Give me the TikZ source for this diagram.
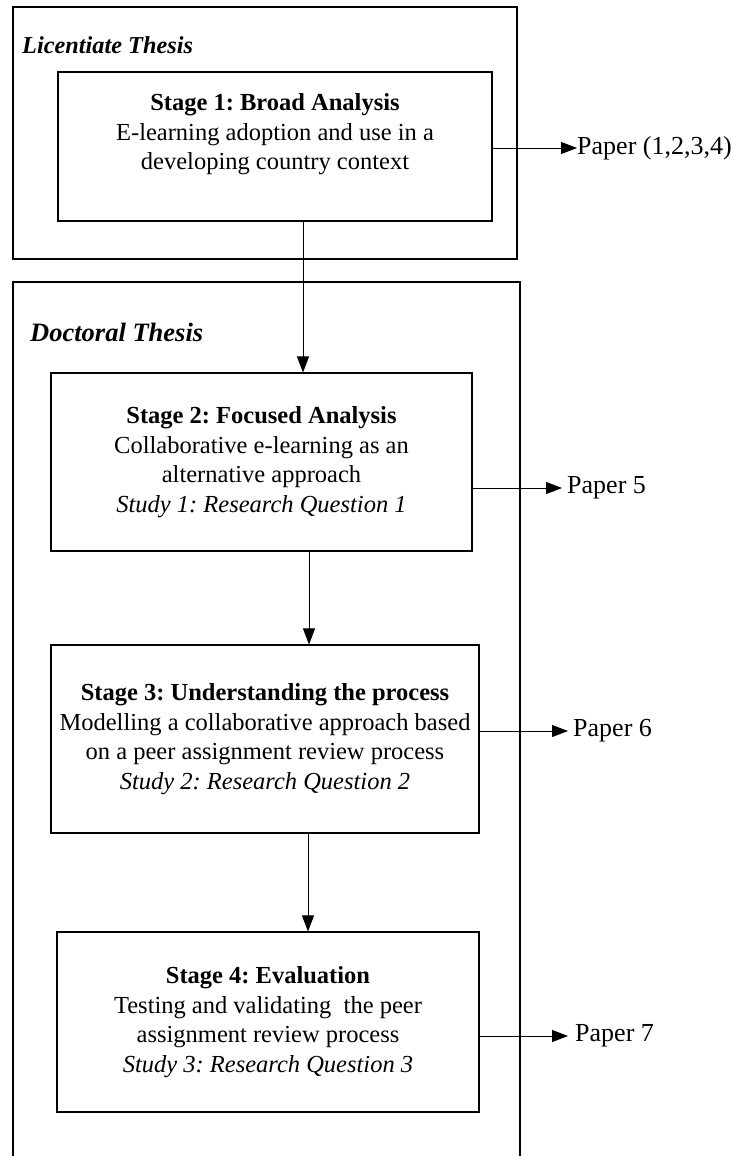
\documentclass[tikz,border=0pt]{standalone}
\usepackage{fontspec}
\setmainfont{Liberation Serif}
\usetikzlibrary{arrows.meta,positioning}
\frenchspacing

\begin{document}
\begin{tikzpicture}[
    x=1pt, y=-1pt,
    frame/.style={draw=black, line width=1.1pt},
    stagebox/.style={rectangle, draw=black, line width=1.1pt, align=center, inner sep=0pt, font=\fontsize{24.5}{29.5}\selectfont},
    thesis/.style={anchor=west, inner sep=0pt, font=\bfseries\itshape},
    paper/.style={anchor=west, inner sep=0pt, font=\fontsize{26}{30}\selectfont},
    arrow/.style={line width=0.9pt, -{Triangle[length=16pt,width=12pt]}}
]
\useasboundingbox (0,0) rectangle (736,1156);

% Frames
\draw[frame] (13,7) rectangle (517,259);
\draw[frame] (13,282) rectangle (520,1175);
\node[thesis, font=\fontsize{24.3}{30}\selectfont\bfseries\itshape] (lic) at (22,45) {Licentiate Thesis};
\node[thesis, font=\fontsize{26.5}{30}\selectfont\bfseries\itshape] (doc) at (30,332) {Doctoral Thesis};

% Stages
\node[stagebox, minimum width=434pt, minimum height=149pt] (stage1) at (275,146.5)
    {\textbf{Stage 1: Broad Analysis}\\E-learning adoption and use in a\\developing country context\\~};
\node[stagebox, minimum width=421pt, minimum height=178pt] (stage2) at (261.5,462)
    {\textbf{Stage 2: Focused Analysis}\\Collaborative e-learning as an\\alternative approach\\\textit{Study 1: Research Question 1}};
\node[stagebox, minimum width=428pt, minimum height=188pt] (stage3) at (265,739)
    {\textbf{Stage 3: Understanding the process}\\Modelling a collaborative approach based\\on a peer assignment review process\\\textit{Study 2: Research Question 2}};
\node[stagebox, minimum width=422pt, minimum height=180pt] (stage4) at (268,1022)
    {\textbf{Stage 4: Evaluation}\\Testing and validating~ the peer\\assignment review process\\\textit{Study 3: Research Question 3}};

% Papers
\node[paper] (paper1) at (577,148) {Paper (1,2,3,4)};
\node[paper] (paper2) at (567,488) {Paper 5};
\node[paper] (paper3) at (573,731) {Paper 6};
\node[paper] (paper4) at (575,1036) {Paper 7};

% Arrows
\draw[arrow] ([xshift=28pt]stage1.south) -- ([xshift=28pt]stage1.south |- stage2.north);
\draw[arrow] ([xshift=47.5pt]stage2.south) -- ([xshift=47.5pt]stage2.south |- stage3.north);
\draw[arrow] ([xshift=43pt]stage3.south) -- ([xshift=43pt]stage3.south |- stage4.north);
\draw[arrow] (stage1.east |- paper1.west) -- (paper1.west);
\draw[arrow] (stage2.east |- paper2.west) -- ([xshift=-5pt]paper2.west);
\draw[arrow] (stage3.east |- paper3.west) -- ([xshift=-5pt]paper3.west);
\draw[arrow] (stage4.east |- paper4.west) -- ([xshift=-7pt]paper4.west);
\end{tikzpicture}
\end{document}
